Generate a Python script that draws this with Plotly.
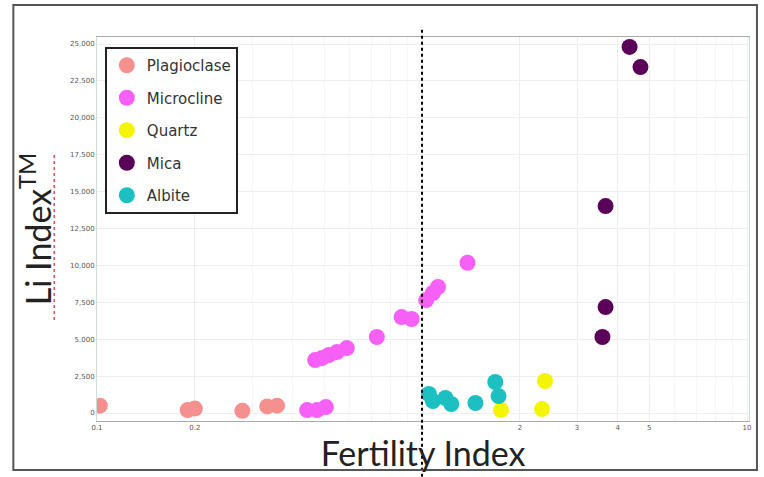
import plotly.graph_objects as go

plag_x = [0.102, 0.19, 0.20, 0.28, 0.334, 0.358]
plag_y = [500, 200, 300, 150, 450, 500]

micro_x = [0.443, 0.475, 0.506, 0.469, 0.492, 0.517, 0.547, 0.587, 0.726, 0.865, 0.929, 1.03, 1.08, 1.12, 1.38]
micro_y = [200, 200, 400, 3590, 3730, 3930, 4130, 4400, 5150, 6500, 6370, 7650, 8130, 8540, 10180]

quartz_x = [1.75, 2.39, 2.34]
quartz_y = [200, 2170, 270]

mica_x = [4.35, 4.70, 3.67, 3.67, 3.59]
mica_y = [24800, 23440, 14020, 7180, 5150]

albite_x = [1.05, 1.08, 1.18, 1.23, 1.46, 1.68, 1.72]
albite_y = [1290, 810, 1020, 610, 680, 2100, 1150]

x_ticks = [0.1, 0.2, 1, 2, 3, 4, 5, 10]
x_tick_text = ["0.1", "0.2", "1", "2", "3", "4", "5", "10"]
y_ticks = [0, 2500, 5000, 7500, 10000, 12500, 15000, 17500, 20000, 22500, 25000]

series = [
    ("Plagioclase", plag_x, plag_y, "#F4908E"),
    ("Microcline", micro_x, micro_y, "#F660F6"),
    ("Quartz", quartz_x, quartz_y, "#F5F500"),
    ("Mica", mica_x, mica_y, "#5A0058"),
    ("Albite", albite_x, albite_y, "#1CC0C0"),
]

fig = go.Figure()
for name, xs, ys, col in series:
    fig.add_trace(go.Scatter(
        x=xs, y=ys, mode="markers", name=name, legendgroup=name,
        marker=dict(size=16, color=col, line=dict(width=0)),
    ))

fig.update_layout(
    width=764, height=477,
    margin=dict(l=97, r=12, t=37, b=56),
    paper_bgcolor="white", plot_bgcolor="white",
    font=dict(family="DejaVu Sans", color="#444"),
    legend=dict(
        x=0.012, y=0.974, xanchor="left", yanchor="top",
        bordercolor="#222", borderwidth=2, bgcolor="white",
        font=dict(size=15, color="#333", family="DejaVu Sans"),
        itemsizing="trace", tracegroupgap=10,
    ),
    xaxis=dict(
        type="log", range=[-1, 1.006],
        tickvals=x_ticks, ticktext=x_tick_text,
        tickfont=dict(size=7, color="#555"),
        showgrid=True, gridcolor="#EEEEEE", gridwidth=1,
        minor=dict(showgrid=True, gridcolor="#F5F5F5", dtick="D1"),
        showline=True, linecolor="#AAAAAA", linewidth=1, mirror=True,
        zeroline=False, ticks="",
        title=dict(text="Fertility Index", font=dict(size=34, color="#222", family="Lato"), standoff=0),
    ),
    yaxis=dict(
        range=[-540, 25475],
        tickvals=y_ticks, tickformat=",d",
        tickfont=dict(size=7, color="#555"),
        showgrid=True, gridcolor="#EEEEEE", gridwidth=1,
        showline=True, linecolor="#CCDDDD", linewidth=1, mirror=True,
        zeroline=False, ticks="",
        title=dict(text="Li Index<sup>TM</sup>", font=dict(size=34, color="#222", family="Lato"), standoff=8),
    ),
)

# vertical dashed reference line at Fertility Index = 1
fig.add_shape(type="line", xref="x", yref="paper", x0=1, x1=1, y0=-0.145, y1=1.02,
              line=dict(color="black", width=2, dash="dot"))
# outer frame
fig.add_shape(type="rect", xref="paper", yref="paper", x0=-0.1283, x1=1.0122, y0=-0.1276, y1=1.0833,
              line=dict(color="#555555", width=2), fillcolor="rgba(0,0,0,0)")
# spell-check squiggle under the y title
fig.add_shape(type="line", xref="paper", yref="paper", x0=-0.0656, x1=-0.0656, y0=0.263, y1=0.70,
              line=dict(color="#E05050", width=1.5, dash="dot"))

fig.write_html("out.html", config={"displayModeBar": False},
               post_script="document.body.style.margin='0px';")
